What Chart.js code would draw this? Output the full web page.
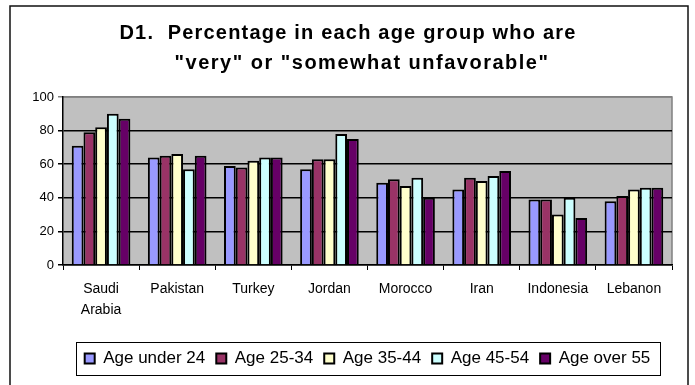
<!DOCTYPE html>
<html>
<head>
<meta charset="utf-8">
<script src="https://cdn.jsdelivr.net/npm/chart.js@4.4.1/dist/chart.umd.min.js"></script>
<style>
  html, body { margin: 0; padding: 0; background: #fff; }
  #wrap { width: 695px; height: 385px; }
</style>
</head>
<body>
<div id="wrap"><canvas id="chart" width="695" height="385"></canvas></div>
<script>
const countries = [["Saudi", "Arabia"], "Pakistan", "Turkey", "Jordan", "Morocco", "Iran", "Indonesia", "Lebanon"];
const ageGroups = ["Age under 24", "Age 25-34", "Age 35-44", "Age 45-54", "Age over 55"];
const under24 = [71, 64, 59, 57, 49, 45, 39, 38];
const age25to34 = [79, 65, 58, 63, 51, 52, 39, 41];
const age35to44 = [82, 66, 62, 63, 47, 50, 30, 45];
const age45to54 = [90, 57, 64, 78, 52, 53, 40, 46];
const over55 = [87, 65, 64, 75, 40, 56, 28, 46];
const yTicks = [0, 20, 40, 60, 80, 100];
const titleLines = ['D1.  Percentage in each age group who are', '"very" or "somewhat unfavorable"'];

const colors = ["#9999FF", "#993366", "#FFFFCC", "#CCFFFF", "#660066"];
const seriesValues = [under24, age25to34, age35to44, age45to54, over55];

// grey plot background, outer frame and two-line heading
const frame = {
  id: "frame",
  beforeDraw(chart) {
    const ctx = chart.ctx;
    const a = chart.chartArea;
    ctx.save();
    ctx.fillStyle = "#fff";
    ctx.fillRect(0, 0, chart.width, chart.height);
    ctx.strokeStyle = "#111";
    ctx.lineWidth = 1.5;
    ctx.strokeRect(10, 6, 678, 400);
    ctx.fillStyle = "#C0C0C0";
    ctx.fillRect(a.left, a.top, a.right - a.left, a.bottom - a.top);
    ctx.strokeStyle = "#808080";
    ctx.lineWidth = 1.5;
    ctx.beginPath();
    ctx.moveTo(a.left, a.top);
    ctx.lineTo(a.right, a.top);
    ctx.lineTo(a.right, a.bottom);
    ctx.stroke();
    ctx.fillStyle = "#000";
    ctx.font = 'bold 20px "Liberation Sans", Arial, sans-serif';
    ctx.textAlign = "center";
    ctx.textBaseline = "alphabetic";
    ctx.letterSpacing = "1.2px";
    ctx.fillText(titleLines[0], 348, 39);
    ctx.letterSpacing = "1.5px";
    ctx.fillText(titleLines[1], 362, 69);
    ctx.restore();
  },
  afterDraw(chart) {
    // box round the legend items
    const boxes = chart.legend.legendHitBoxes;
    if (!boxes || !boxes.length) return;
    const left = Math.min(...boxes.map(b => b.left));
    const right = Math.max(...boxes.map(b => b.left + b.width));
    const top = Math.min(...boxes.map(b => b.top));
    const bottom = Math.max(...boxes.map(b => b.top + b.height));
    const ctx = chart.ctx;
    ctx.save();
    ctx.strokeStyle = "#000";
    ctx.lineWidth = 1;
    ctx.strokeRect(Math.round(left - 9) + 0.5, Math.round(top - 8) + 0.5,
      Math.round(right - left + 18), Math.round(bottom - top + 16));
    ctx.restore();
  }
};

new Chart(document.getElementById("chart"), {
  type: "bar",
  data: {
    labels: countries,
    datasets: ageGroups.map((name, i) => ({
      label: name,
      data: seriesValues[i],
      backgroundColor: colors[i],
      borderColor: "#000",
      borderWidth: 2,
      categoryPercentage: 0.77,
      barPercentage: 1
    }))
  },
  options: {
    responsive: false,
    animation: false,
    layout: { padding: { left: 10, right: 23, top: 97, bottom: 8 } },
    plugins: {
      title: { display: false },
      tooltip: { enabled: false },
      legend: {
        position: "bottom",
        fullSize: false,
        labels: {
          color: "#000",
          font: { family: '"Liberation Sans", Arial, sans-serif', size: 17 },
          boxWidth: 10,
          boxHeight: 10,
          padding: 11
        }
      }
    },
    scales: {
      x: {
        offset: true,
        afterFit(scale) { scale.height += 9; },
        grid: {
          offset: true,
          drawOnChartArea: false,
          color: "#000",
          tickLength: 5
        },
        border: { color: "#000", width: 1.5 },
        ticks: {
          color: "#000",
          padding: 9,
          maxRotation: 0,
          font: { family: '"Liberation Sans", Arial, sans-serif', size: 14, lineHeight: 1.5 }
        }
      },
      y: {
        min: 0,
        max: 100,
        afterFit(scale) { scale.width = 53; },
        afterBuildTicks(scale) { scale.ticks = yTicks.map(v => ({ value: v })); },
        grid: {
          color: ctx => (ctx.tick && ctx.tick.value === 100 ? "#808080" : "#000"),
          lineWidth: 1.5,
          tickLength: 5
        },
        border: { color: "#000", width: 1.5 },
        ticks: {
          color: "#000",
          padding: 4,
          font: { family: '"Liberation Sans", Arial, sans-serif', size: 13 }
        }
      }
    }
  },
  plugins: [frame]
});
</script>
</body>
</html>
